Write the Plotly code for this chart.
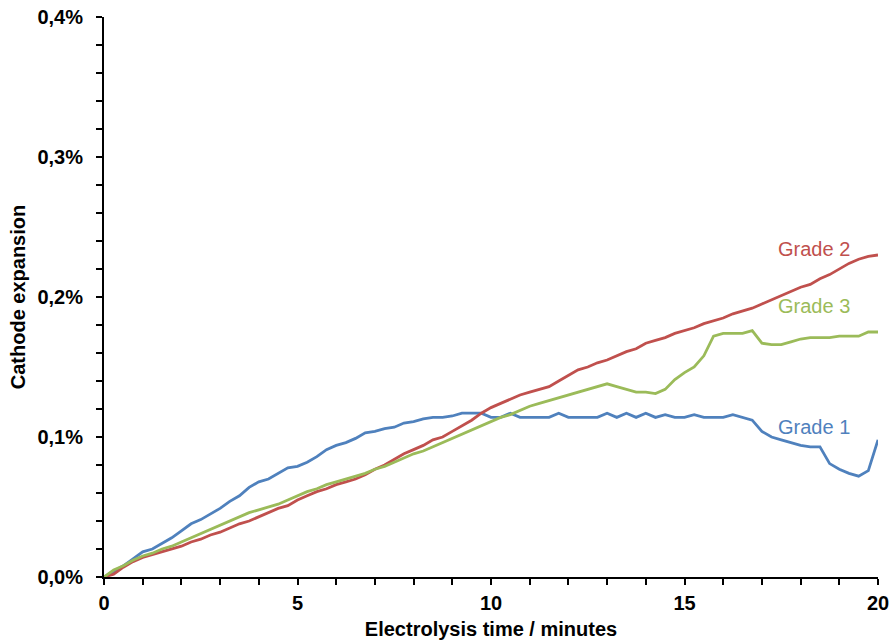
import plotly.graph_objects as go

time_min = [i * 0.25 for i in range(81)]

grade1 = [0.000, 0.004, 0.008, 0.013, 0.018, 0.020, 0.024, 0.028, 0.033, 0.038,
          0.041, 0.045, 0.049, 0.054, 0.058, 0.064, 0.068, 0.070, 0.074, 0.078,
          0.079, 0.082, 0.086, 0.091, 0.094, 0.096, 0.099, 0.103, 0.104, 0.106,
          0.107, 0.110, 0.111, 0.113, 0.114, 0.114, 0.115, 0.117, 0.117, 0.117,
          0.114, 0.114, 0.117, 0.114, 0.114, 0.114, 0.114, 0.117, 0.114, 0.114,
          0.114, 0.114, 0.117, 0.114, 0.117, 0.114, 0.117, 0.114, 0.116, 0.114,
          0.114, 0.116, 0.114, 0.114, 0.114, 0.116, 0.114, 0.112, 0.104, 0.100,
          0.098, 0.096, 0.094, 0.093, 0.093, 0.081, 0.077, 0.074, 0.072, 0.076,
          0.098]

grade2 = [0.000, 0.002, 0.007, 0.011, 0.014, 0.016, 0.018, 0.020, 0.022, 0.025,
          0.027, 0.030, 0.032, 0.035, 0.038, 0.040, 0.043, 0.046, 0.049, 0.051,
          0.055, 0.058, 0.061, 0.063, 0.066, 0.068, 0.070, 0.073, 0.077, 0.080,
          0.084, 0.088, 0.091, 0.094, 0.098, 0.100, 0.104, 0.108, 0.112, 0.117,
          0.121, 0.124, 0.127, 0.130, 0.132, 0.134, 0.136, 0.140, 0.144, 0.148,
          0.150, 0.153, 0.155, 0.158, 0.161, 0.163, 0.167, 0.169, 0.171, 0.174,
          0.176, 0.178, 0.181, 0.183, 0.185, 0.188, 0.190, 0.192, 0.195, 0.198,
          0.201, 0.204, 0.207, 0.209, 0.213, 0.216, 0.220, 0.224, 0.227, 0.229,
          0.230]

grade3 = [0.000, 0.005, 0.008, 0.012, 0.015, 0.017, 0.020, 0.022, 0.025, 0.028,
          0.031, 0.034, 0.037, 0.040, 0.043, 0.046, 0.048, 0.050, 0.052, 0.055,
          0.058, 0.061, 0.063, 0.066, 0.068, 0.070, 0.072, 0.074, 0.077, 0.079,
          0.082, 0.085, 0.088, 0.090, 0.093, 0.096, 0.099, 0.102, 0.105, 0.108,
          0.111, 0.114, 0.116, 0.119, 0.122, 0.124, 0.126, 0.128, 0.130, 0.132,
          0.134, 0.136, 0.138, 0.136, 0.134, 0.132, 0.132, 0.131, 0.134, 0.141,
          0.146, 0.150, 0.158, 0.172, 0.174, 0.174, 0.174, 0.176, 0.167, 0.166,
          0.166, 0.168, 0.170, 0.171, 0.171, 0.171, 0.172, 0.172, 0.172, 0.175,
          0.175]

series_names = ["Grade 1", "Grade 2", "Grade 3"]
series_colors = ["#4F81BD", "#C0504D", "#9BBB59"]
label_pos = [(18.35, 0.107), (18.35, 0.234), (18.35, 0.1935)]

FONT = "Liberation Sans, Arial"

fig = go.Figure()
for name, vals, col in zip(series_names, [grade1, grade2, grade3], series_colors):
    fig.add_trace(go.Scatter(x=time_min, y=vals, mode="lines", name=name,
                             line=dict(color=col, width=2.8)))

for name, col, (lx, ly) in zip(series_names, series_colors, label_pos):
    fig.add_annotation(x=lx, y=ly, text=name, showarrow=False,
                       font=dict(family=FONT, size=20, color=col))

fig.update_layout(
    width=893, height=644,
    margin=dict(l=104, r=15, t=17, b=67),
    paper_bgcolor="white", plot_bgcolor="white",
    showlegend=False,
    separators=",.",
    font=dict(family=FONT, size=16, color="black"),
    xaxis=dict(range=[0, 20], dtick=5, tick0=0, showgrid=False, zeroline=False,
               automargin=False, ticklabeloverflow="allow",
               showline=True, linecolor="black", linewidth=2,
               ticks="outside", ticklen=6, tickwidth=1.5, tickcolor="black",
               ticklabelstandoff=1,
               minor=dict(dtick=1, ticks="outside", ticklen=6, tickcolor="black", tickwidth=1.5),
               tickfont=dict(family=FONT, size=20, color="black", weight="bold"),
               title=dict(text="<b>Electrolysis time / minutes</b>", standoff=9,
                          font=dict(family=FONT, size=20, color="black"))),
    yaxis=dict(range=[0, 0.4], dtick=0.1, tick0=0, showgrid=False, zeroline=False,
               automargin=False, ticklabeloverflow="allow",
               showline=True, linecolor="black", linewidth=2,
               ticks="outside", ticklen=6, tickwidth=1.5, tickcolor="black",
               ticksuffix="%", tickformat=".1f", ticklabelstandoff=9,
               minor=dict(dtick=0.02, ticks="outside", ticklen=6, tickcolor="black", tickwidth=1.5),
               tickfont=dict(family=FONT, size=20, color="black", weight="bold"),
               title=dict(text="<b>Cathode expansion</b>", standoff=6,
                          font=dict(family=FONT, size=20, color="black"))),
)

fig.write_html("out.html", config={"displayModeBar": False},
               post_script="document.body.style.margin='0';document.body.style.overflow='hidden';")
